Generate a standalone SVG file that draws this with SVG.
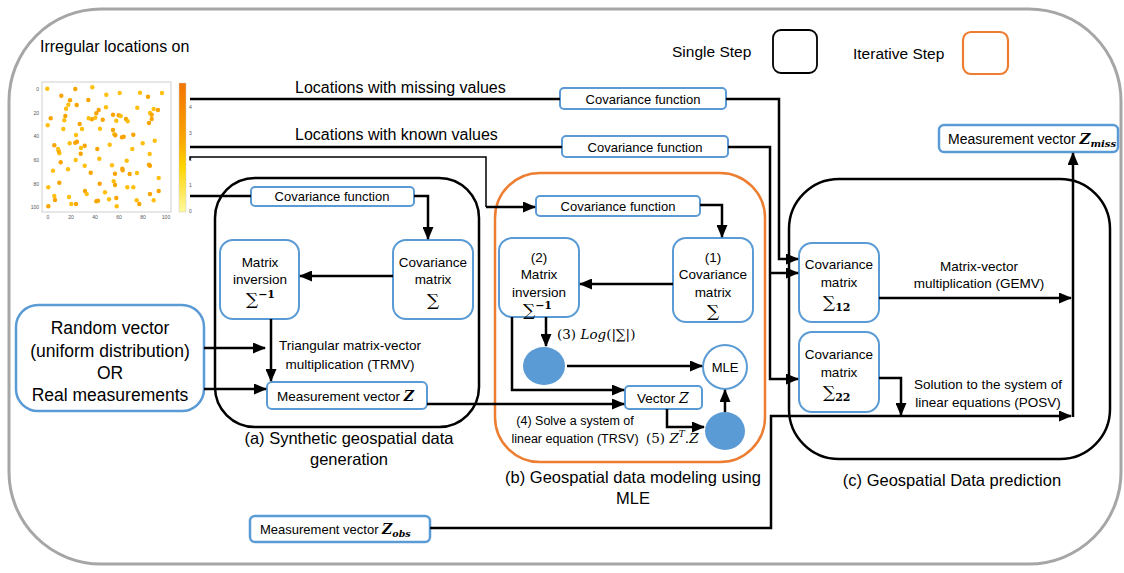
<svg xmlns="http://www.w3.org/2000/svg" width="1124" height="573" viewBox="0 0 1124 573">
<style>
text{font-family:"Liberation Sans",Arial,sans-serif;fill:#000}
.m{font-family:"DejaVu Serif","Liberation Serif",serif}
.c{text-anchor:middle}
.bx{fill:#fff;stroke:#5b9bd5;stroke-width:2}
.nb{fill:#fff;stroke:#5b9bd5;stroke-width:2}
.w{fill:none;stroke:#000;stroke-width:2.5}
.wa{fill:none;stroke:#000;stroke-width:2.5;marker-end:url(#ah)}
.thin{fill:none;stroke:#000;stroke-width:1.5}
.d1{fill:#f9a400}
.d2{fill:#ffbf10}
.tk{font-size:5px;fill:#555}
.f13{font-size:13px}
.f135{font-size:13.5px}
.f16{font-size:16.5px}
</style>
<defs>
<marker id="ah" markerUnits="userSpaceOnUse" markerWidth="13" markerHeight="11" refX="12" refY="5.5" orient="auto">
<path d="M0,0 L13,5.5 L0,11 z" fill="#000"/>
</marker>
<linearGradient id="cb" x1="0" y1="0" x2="0" y2="1">
<stop offset="0" stop-color="#f37400"/>
<stop offset="0.45" stop-color="#f9a800"/>
<stop offset="0.65" stop-color="#ffd400"/>
<stop offset="1" stop-color="#fff9a0"/>
</linearGradient>
</defs>
<rect width="1124" height="573" fill="#fff"/>
<rect x="9" y="9" width="1112" height="555" rx="92" ry="92" fill="none" stroke="#a6a6a6" stroke-width="3"/>

<g id="legend">
<text x="672" y="57" font-size="15.5px">Single Step</text>
<rect x="773" y="30" width="44" height="43" rx="8" fill="none" stroke="#000" stroke-width="1.8"/>
<text x="853" y="59" font-size="15.5px">Iterative Step</text>
<rect x="963" y="32" width="45" height="42" rx="8" fill="none" stroke="#ed7d31" stroke-width="2.2"/>
</g>

<g id="plot">
<text x="40" y="52" font-size="16px">Irregular locations on</text>
<rect x="42" y="82" width="129" height="130" fill="#fff" stroke="#cfcfcf" stroke-width="1"/>
<g>
<circle class="d2" cx="47.3" cy="88.7" r="2.2"/><circle class="d1" cx="75.3" cy="89" r="2.2"/><circle class="d2" cx="92.3" cy="87.3" r="2.2"/><circle class="d1" cx="61.3" cy="95.7" r="2.2"/><circle class="d1" cx="70" cy="100.3" r="2.2"/><circle class="d2" cx="68.3" cy="104.7" r="2.2"/><circle class="d2" cx="66" cy="108.7" r="2.2"/><circle class="d1" cx="65.3" cy="116" r="2.2"/><circle class="d2" cx="64.3" cy="120.3" r="2.2"/><circle class="d2" cx="63.3" cy="129" r="2.2"/><circle class="d1" cx="50.7" cy="118.3" r="2.2"/><circle class="d2" cx="47.7" cy="125.3" r="2.2"/><circle class="d1" cx="76.7" cy="105" r="2.2"/><circle class="d1" cx="88.3" cy="100" r="2.2"/><circle class="d1" cx="92" cy="119.3" r="2.2"/><circle class="d2" cx="88.7" cy="118.3" r="2.2"/><circle class="d1" cx="79.7" cy="124" r="2.2"/><circle class="d2" cx="82" cy="129" r="2.2"/><circle class="d2" cx="76" cy="135" r="2.2"/><circle class="d1" cx="77" cy="141.7" r="2.2"/><circle class="d1" cx="75.3" cy="142.7" r="2.2"/><circle class="d2" cx="69.7" cy="143.3" r="2.2"/><circle class="d1" cx="84.7" cy="145.7" r="2.2"/><circle class="d2" cx="81" cy="148" r="2.2"/><circle class="d1" cx="80.7" cy="153.7" r="2.2"/><circle class="d2" cx="75.7" cy="160" r="2.2"/><circle class="d2" cx="68" cy="169.3" r="2.2"/><circle class="d1" cx="60.7" cy="162.3" r="2.2"/><circle class="d2" cx="59.3" cy="153.3" r="2.2"/><circle class="d1" cx="58.7" cy="151" r="2.2"/><circle class="d2" cx="58" cy="149" r="2.2"/><circle class="d1" cx="54.3" cy="145.3" r="2.2"/><circle class="d2" cx="53" cy="170.7" r="2.2"/><circle class="d2" cx="48.3" cy="187.3" r="2.2"/><circle class="d1" cx="59.3" cy="182.7" r="2.2"/><circle class="d2" cx="54.3" cy="196" r="2.2"/><circle class="d1" cx="55" cy="200" r="2.2"/><circle class="d1" cx="48.3" cy="206.3" r="2.2"/><circle class="d2" cx="69" cy="197" r="2.2"/><circle class="d2" cx="71.3" cy="204" r="2.2"/><circle class="d1" cx="76" cy="204" r="2.2"/><circle class="d1" cx="85" cy="191" r="2.2"/><circle class="d2" cx="86.7" cy="194" r="2.2"/><circle class="d2" cx="84.7" cy="165.7" r="2.2"/><circle class="d1" cx="90.7" cy="172.7" r="2.2"/><circle class="d1" cx="96.3" cy="113.3" r="2.2"/><circle class="d2" cx="95.3" cy="117.7" r="2.2"/><circle class="d1" cx="98.7" cy="110" r="2.2"/><circle class="d2" cx="100" cy="128.7" r="2.2"/><circle class="d1" cx="102.7" cy="119.7" r="2.2"/><circle class="d2" cx="106.3" cy="94.7" r="2.2"/><circle class="d2" cx="106" cy="107.3" r="2.2"/><circle class="d2" cx="119.7" cy="93" r="2.2"/><circle class="d1" cx="113" cy="114.7" r="2.2"/><circle class="d2" cx="116.3" cy="120.7" r="2.2"/><circle class="d1" cx="118.7" cy="115.3" r="2.2"/><circle class="d2" cx="120.7" cy="116" r="2.2"/><circle class="d1" cx="126" cy="119" r="2.2"/><circle class="d2" cx="127.7" cy="121.3" r="2.2"/><circle class="d1" cx="113" cy="130" r="2.2"/><circle class="d2" cx="114.3" cy="134.3" r="2.2"/><circle class="d1" cx="115.3" cy="135.3" r="2.2"/><circle class="d1" cx="122" cy="137.3" r="2.2"/><circle class="d1" cx="123.7" cy="136.7" r="2.2"/><circle class="d2" cx="109.7" cy="144.7" r="2.2"/><circle class="d1" cx="97.3" cy="149" r="2.2"/><circle class="d2" cx="99.3" cy="158.7" r="2.2"/><circle class="d1" cx="99.7" cy="183.7" r="2.2"/><circle class="d2" cx="105" cy="192.3" r="2.2"/><circle class="d1" cx="96.3" cy="201.3" r="2.2"/><circle class="d1" cx="98" cy="200.7" r="2.2"/><circle class="d2" cx="109" cy="199.3" r="2.2"/><circle class="d2" cx="113.7" cy="181.3" r="2.2"/><circle class="d1" cx="115" cy="185" r="2.2"/><circle class="d1" cx="115" cy="173.7" r="2.2"/><circle class="d2" cx="112" cy="165.3" r="2.2"/><circle class="d1" cx="116.3" cy="198" r="2.2"/><circle class="d2" cx="116.7" cy="206.3" r="2.2"/><circle class="d1" cx="122.7" cy="170.3" r="2.2"/><circle class="d1" cx="122.3" cy="168.7" r="2.2"/><circle class="d2" cx="126.7" cy="160.7" r="2.2"/><circle class="d1" cx="129.7" cy="174" r="2.2"/><circle class="d2" cx="127.3" cy="187.3" r="2.2"/><circle class="d2" cx="133.3" cy="187.3" r="2.2"/><circle class="d2" cx="132.3" cy="149" r="2.2"/><circle class="d1" cx="133.3" cy="134.7" r="2.2"/><circle class="d2" cx="137.3" cy="107.7" r="2.2"/><circle class="d2" cx="140" cy="92.7" r="2.2"/><circle class="d1" cx="148" cy="96.7" r="2.2"/><circle class="d1" cx="149" cy="123" r="2.2"/><circle class="d2" cx="150" cy="113" r="2.2"/><circle class="d1" cx="151.7" cy="114.7" r="2.2"/><circle class="d1" cx="151.7" cy="119" r="2.2"/><circle class="d2" cx="153.7" cy="109" r="2.2"/><circle class="d1" cx="158" cy="110" r="2.2"/><circle class="d2" cx="162" cy="93" r="2.2"/><circle class="d2" cx="154.7" cy="140.7" r="2.2"/><circle class="d2" cx="149.7" cy="154" r="2.2"/><circle class="d1" cx="149" cy="164.7" r="2.2"/><circle class="d1" cx="150" cy="165.7" r="2.2"/><circle class="d2" cx="142.7" cy="143.3" r="2.2"/><circle class="d2" cx="137" cy="173" r="2.2"/><circle class="d2" cx="136.7" cy="200.3" r="2.2"/><circle class="d1" cx="139.3" cy="204" r="2.2"/><circle class="d1" cx="150" cy="194" r="2.2"/><circle class="d2" cx="153.7" cy="200.3" r="2.2"/><circle class="d1" cx="158.7" cy="191" r="2.2"/><circle class="d2" cx="158.7" cy="178" r="2.2"/>
</g>
<g class="tk">
<text x="39" y="90.5" text-anchor="end" class="tk">0</text>
<text x="39" y="114.5" text-anchor="end" class="tk">20</text>
<text x="39" y="137.5" text-anchor="end" class="tk">40</text>
<text x="39" y="161.5" text-anchor="end" class="tk">60</text>
<text x="39" y="185.5" text-anchor="end" class="tk">80</text>
<text x="39" y="208.5" text-anchor="end" class="tk">100</text>
<text x="48" y="219" text-anchor="middle" class="tk">0</text>
<text x="71" y="219" text-anchor="middle" class="tk">20</text>
<text x="95" y="219" text-anchor="middle" class="tk">40</text>
<text x="119" y="219" text-anchor="middle" class="tk">60</text>
<text x="143" y="219" text-anchor="middle" class="tk">80</text>
<text x="166" y="219" text-anchor="middle" class="tk">100</text>
</g>
<rect x="179" y="83" width="7" height="129" fill="url(#cb)" stroke="#ccc" stroke-width="0.5"/>
<text x="189" y="109" class="tk">4</text>
<text x="189" y="135" class="tk">3</text>
<text x="189" y="161" class="tk">2</text>
<text x="189" y="187" class="tk">1</text>
<text x="189" y="213" class="tk">0</text>
</g>

<g id="top-labels">
<text x="295" y="93" font-size="16px">Locations with missing values</text>
<text x="295" y="140" font-size="16px">Locations with known values</text>
</g>

<g id="cov-func-missing">
<rect class="bx" x="560" y="88" width="166" height="21" rx="4"/>
<text class="c f13" x="643" y="103.5">Covariance function</text>
</g>
<g id="cov-func-known">
<rect class="bx" x="562" y="136" width="166" height="21" rx="4"/>
<text class="c f13" x="645" y="151.5">Covariance function</text>
</g>

<g id="group-a">
<rect x="215" y="178" width="264" height="249" rx="40" fill="none" stroke="#000" stroke-width="2.5"/>
<text class="c f16" x="349" y="444">(a) Synthetic geospatial data</text>
<text class="c f16" x="349" y="465">generation</text>
</g>
<g id="a-cov-func">
<rect class="bx" x="251" y="187" width="163" height="19" rx="4"/>
<text class="c f13" x="332" y="201">Covariance function</text>
</g>
<g id="a-cov-matrix">
<rect class="nb" x="393" y="240" width="80" height="79" rx="13"/>
<text class="c f135" x="433" y="267">Covariance</text>
<text class="c f135" x="433" y="284">matrix</text>
<text class="c m" x="433" y="306" font-size="17px">∑</text>
</g>
<g id="a-inversion">
<rect class="nb" x="220" y="240" width="79" height="79" rx="13"/>
<text class="c f135" x="260" y="267">Matrix</text>
<text class="c f135" x="260" y="284">inversion</text>
<text class="m" x="246" y="305" font-size="17px">∑<tspan font-size="11px" font-weight="bold" dy="-7">−1</tspan></text>
</g>
<g id="a-measurement">
<rect class="nb" x="267" y="382" width="160" height="27" rx="5"/>
<text class="f135" x="277" y="401">Measurement vector <tspan class="m" font-weight="bold" font-style="italic" font-size="14px">Z</tspan></text>
</g>
<g id="a-trmv">
<text class="c f135" x="350" y="350">Triangular matrix-vector</text>
<text class="c f135" x="350" y="369">multiplication (TRMV)</text>
</g>

<g id="random-vector">
<rect x="16" y="305" width="188" height="106" rx="22" fill="#fff" stroke="#5b9bd5" stroke-width="2.5"/>
<text class="c" x="110" y="334" font-size="17.5px">Random vector</text>
<text class="c" x="110" y="357" font-size="17.5px">(uniform distribution)</text>
<text class="c" x="110" y="379" font-size="17.5px">OR</text>
<text class="c" x="110" y="401" font-size="17.5px">Real measurements</text>
</g>

<g id="group-b">
<rect x="495" y="173" width="270" height="289" rx="45" fill="none" stroke="#ed7d31" stroke-width="2.5"/>
<text class="c f16" x="633" y="483">(b) Geospatial data modeling using</text>
<text class="c f16" x="633" y="504">MLE</text>
</g>
<g id="b-cov-func">
<rect class="bx" x="536" y="196" width="164" height="20" rx="4"/>
<text class="c f13" x="618" y="210.5">Covariance function</text>
</g>
<g id="b-cov-matrix">
<rect class="nb" x="673" y="238" width="80" height="84" rx="13"/>
<text class="c f135" x="713" y="262">(1)</text>
<text class="c f135" x="713" y="279">Covariance</text>
<text class="c f135" x="713" y="297">matrix</text>
<text class="c m" x="713" y="317" font-size="17px">∑</text>
</g>
<g id="b-inversion">
<rect class="nb" x="499" y="238" width="80" height="79" rx="13"/>
<text class="c f135" x="539" y="262">(2)</text>
<text class="c f135" x="539" y="279">Matrix</text>
<text class="c f135" x="539" y="297">inversion</text>
<text class="m" x="523" y="316" font-size="17px">∑<tspan font-size="11px" font-weight="bold" dy="-7">−1</tspan></text>
</g>
<g id="b-log">
<text class="m" x="557" y="339" font-size="13.5px">(3) <tspan font-style="italic">Log</tspan>(|∑|)</text>
<ellipse cx="544" cy="366" rx="21" ry="19" fill="#5b9bd5"/>
</g>
<g id="b-mle">
<circle cx="725" cy="367" r="22" fill="#fff" stroke="#5b9bd5" stroke-width="2"/>
<text class="c f13" x="725" y="372">MLE</text>
</g>
<g id="b-vector">
<rect class="nb" x="625" y="386" width="77" height="23" rx="4"/>
<text class="f135" x="637" y="403">Vector <tspan class="m" font-style="italic" font-size="14px">Z</tspan></text>
</g>
<g id="b-dot">
<ellipse cx="725" cy="431" rx="20" ry="19" fill="#5b9bd5"/>
<text class="m" x="646" y="443" font-size="13.5px">(5) <tspan font-style="italic">Z</tspan><tspan font-style="italic" font-size="9px" dy="-6">T</tspan><tspan dy="6">.</tspan><tspan font-style="italic">Z</tspan></text>
</g>
<g id="b-trsv">
<text class="c" x="575" y="425" font-size="12.5px">(4)  Solve a system of</text>
<text class="c" x="575" y="443" font-size="12.5px">linear equation (TRSV)</text>
</g>

<g id="group-c">
<rect x="789" y="179" width="321" height="280" rx="50" fill="none" stroke="#000" stroke-width="2.5"/>
<text class="c f16" x="952" y="486">(c) Geospatial Data prediction</text>
</g>
<g id="c-sigma12">
<rect class="nb" x="799" y="243" width="80" height="79" rx="13"/>
<text class="c f135" x="839" y="269">Covariance</text>
<text class="c f135" x="839" y="287">matrix</text>
<text class="m" x="823" y="308" font-size="17px">∑<tspan font-size="11px" font-weight="bold" dy="3">12</tspan></text>
</g>
<g id="c-sigma22">
<rect class="nb" x="799" y="332" width="80" height="80" rx="13"/>
<text class="c f135" x="839" y="359">Covariance</text>
<text class="c f135" x="839" y="377">matrix</text>
<text class="m" x="823" y="398" font-size="17px">∑<tspan font-size="11px" font-weight="bold" dy="3">22</tspan></text>
</g>
<g id="c-texts">
<text class="c f135" x="979" y="271">Matrix-vector</text>
<text class="c f135" x="979" y="288">multiplication (GEMV)</text>
<text class="c f135" x="988" y="389">Solution to the system of</text>
<text class="c f135" x="988" y="407">linear equations (POSV)</text>
</g>
<g id="z-miss">
<rect x="939" y="125" width="179" height="27" rx="5" fill="#fff" stroke="#5b9bd5" stroke-width="2.5"/>
<text x="948" y="144" font-size="14px">Measurement vector <tspan class="m" font-weight="bold" font-style="italic" font-size="15px">Z</tspan><tspan class="m" font-weight="bold" font-style="italic" font-size="10px" dy="3">miss</tspan></text>
</g>
<g id="z-obs">
<rect x="250" y="516" width="180" height="26" rx="5" fill="#fff" stroke="#5b9bd5" stroke-width="2.5"/>
<text x="260" y="534" font-size="13px">Measurement vector <tspan class="m" font-weight="bold" font-style="italic" font-size="14px">Z</tspan><tspan class="m" font-weight="bold" font-style="italic" font-size="9.5px" dy="3">obs</tspan></text>
</g>

<g id="connectors">
<path class="w" d="M190,99 H560"/>
<path class="wa" d="M726,99 H779 V259 H798"/>
<path class="w" d="M190,147 H562"/>
<path class="wa" d="M728,147 H770 V379 H798"/>
<path class="wa" d="M770,273 H798"/>
<path class="thin" d="M190,160 V157 H486 V207"/>
<path class="wa" d="M486,207 H535"/>
<path class="w" d="M190,196 H251"/>
<path class="wa" d="M414,196 H428 V239"/>
<path class="wa" d="M393,276 H300"/>
<path class="wa" d="M271,319 V381"/>
<path class="wa" d="M204,348 H265"/>
<path class="wa" d="M204,389 H266"/>
<path class="wa" d="M427,404 H624"/>
<path class="wa" d="M700,205 H722 V237"/>
<path class="wa" d="M673,284 H580"/>
<path class="wa" d="M546,317 V346"/>
<path class="wa" d="M567,366 H702"/>
<path class="wa" d="M512,317 V390 H624"/>
<path class="wa" d="M667,409 V427 H704"/>
<path class="wa" d="M725,412 V390"/>
<path class="wa" d="M879,298 H1071"/>
<path class="wa" d="M879,378 H901 V415"/>
<path class="wa" d="M430,528 H771 V416 H1071"/>
<path class="wa" d="M1073,417 V153"/>
</g>
</svg>
